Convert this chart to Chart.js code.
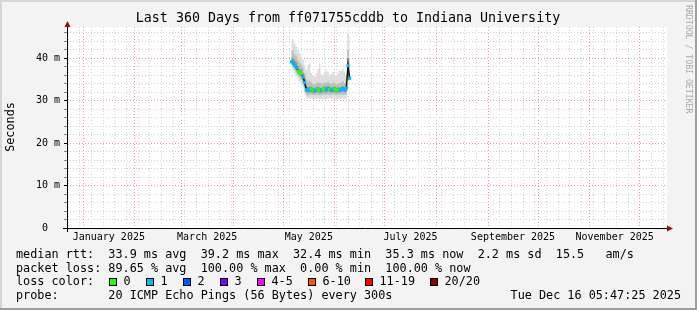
<!DOCTYPE html>
<html>

<head>
  <title>Last 360 Days from ff071755cddb to Indiana University</title>
  <script src="https://cdn.jsdelivr.net/npm/chart.js"></script>
  <style>
    body {
      margin: 0;
      background: #f3f3f3;
    }

    #chartContainer {
      width: 697px;
      height: 310px;
    }
  </style>
</head>

<body>
  <div id="chartContainer">
    <canvas id="myChart" width="697" height="310"></canvas>
  </div>

  <script>
    // x values are day numbers counted from 1 Jan 2025, y values are milliseconds
    const days = [125, 126, 127, 128, 129, 130, 131, 132, 133, 134, 135, 136, 137, 138, 139, 140, 141, 142,
      143, 144, 145, 146, 147, 148, 149, 150, 151, 152, 153, 154, 155, 156, 157, 158, 159, 160];
    const medianMs = [39.2, 38.9, 38.4, 37.8, 37.0, 36.6, 36.4, 35.6, 34.3, 32.6, 32.5, 32.6, 32.8, 32.4, 32.4, 32.6, 32.7, 32.5,
      32.5, 32.6, 32.8, 32.6, 32.9, 32.7, 32.5, 32.6, 32.7, 32.4, 32.6, 32.5, 32.7, 32.8, 32.6, 33.0, 38.3, 35.3];
    const lossCount = [1, 1, 1, 1, 0, 0, 0, 1, 1, 1, 1, 1, 0, 0, 1, 1, 0, 0,
      1, 0, 0, 1, 1, 0, 1, 1, 0, 0, 0, 1, 1, 1, 1, 1, 1, 1];

    // smoke: spread of the 20 pings, three shades
    const smokeOuterLo = [37.6, 37.2, 36.5, 35.8, 35.2, 34.5, 34.0, 33.3, 32.0, 30.8, 30.5, 30.5, 30.6, 30.4, 30.4, 30.5, 30.5, 30.4,
      30.4, 30.5, 30.5, 30.4, 30.6, 30.5, 30.4, 30.5, 30.5, 30.3, 30.4, 30.4, 30.5, 30.5, 30.4, 30.6, 34.5, 34.6];
    const smokeOuterHi = [44.3, 44.5, 43.5, 42.8, 42.0, 41.2, 40.3, 39.6, 38.5, 37.3, 38.5, 38.8, 36.5, 36.0, 35.8, 36.5, 37.5, 38.8,
      36.2, 36.0, 36.5, 37.4, 36.8, 36.0, 36.3, 36.8, 36.2, 35.8, 36.5, 37.3, 37.0, 37.6, 36.8, 36.0, 45.9, 45.5];
    const smokeMidLo = [38.3, 38.0, 37.5, 36.8, 36.0, 35.5, 35.0, 34.2, 33.0, 31.5, 31.3, 31.4, 31.5, 31.3, 31.3, 31.4, 31.4, 31.3,
      31.3, 31.4, 31.5, 31.4, 31.6, 31.5, 31.4, 31.5, 31.5, 31.3, 31.4, 31.4, 31.5, 31.5, 31.4, 31.6, 35.5, 35.0];
    const smokeMidHi = [42.0, 41.8, 41.0, 40.5, 39.5, 39.0, 38.5, 37.8, 36.5, 35.0, 34.5, 34.8, 34.4, 34.0, 33.8, 34.2, 34.3, 34.2,
      34.0, 34.0, 34.3, 34.2, 34.5, 34.2, 34.0, 34.3, 34.2, 33.9, 34.1, 34.2, 34.4, 34.6, 34.2, 34.5, 42.0, 40.0];
    const smokeInnerLo = [38.8, 38.5, 38.0, 37.3, 36.5, 36.0, 35.7, 35.0, 33.8, 32.1, 31.9, 32.0, 32.0, 31.9, 31.8, 32.0, 32.0, 31.9,
      31.9, 32.0, 32.2, 32.0, 32.3, 32.1, 32.0, 32.0, 32.1, 31.9, 32.0, 32.0, 32.1, 32.2, 32.0, 32.2, 35.0, 35.2];
    const smokeInnerHi = [40.2, 40.0, 39.5, 39.0, 38.2, 37.5, 37.2, 36.5, 35.3, 33.4, 33.2, 33.3, 33.3, 33.0, 32.9, 33.2, 33.3, 33.1,
      33.0, 33.2, 33.4, 33.2, 33.5, 33.3, 33.1, 33.2, 33.3, 33.0, 33.2, 33.1, 33.3, 33.4, 33.2, 33.6, 40.0, 37.0];

    // axis marks
    const monthStarts = [0, 31, 59, 90, 120, 151, 181, 212, 243, 273, 304, 334];
    const monthLabels = ['January 2025', 'March 2025', 'May 2025', 'July 2025', 'September 2025', 'November 2025'];
    const monthLabelDays = [15.5, 74.5, 135.5, 196.5, 258, 319];
    const yTickValues = [0, 2, 4, 6, 8, 10, 12, 14, 16, 18, 20, 22, 24, 26, 28, 30, 32, 34, 36, 38, 40, 42, 44, 46];

    // legend
    const lossLabels = ['0', '1', '2', '3', '4-5', '6-10', '11-19', '20/20'];
    const lossColours = ['#26ff00', '#00b8ff', '#0059ff', '#7e00ff', '#ff00ff', '#ff5500', '#ff0000', '#8b0000'];
    const statLines = [
      'median rtt:  33.9 ms avg  39.2 ms max  32.4 ms min  35.3 ms now  2.2 ms sd  15.5   am/s',
      'packet loss: 89.65 % avg  100.00 % max  0.00 % min  100.00 % now'
    ];
    const probeText = 'probe:       20 ICMP Echo Pings (56 Bytes) every 300s';
    const dateText = 'Tue Dec 16 05:47:25 2025';
    const titleText = 'Last 360 Days from ff071755cddb to Indiana University';

    const MONO = "'DejaVu Sans Mono', monospace";
    const majorGrid = '#f09a9a';
    const minorGrid = '#d2d2d2';

    // Mondays, for the weekly grid
    const weekStarts = [];
    for (let d = -9; d <= 350; d += 7) weekStarts.push(d);

    const xLabelAt = {};
    monthLabelDays.forEach((d, i) => { xLabelAt[d] = monthLabels[i]; });
    const xTickValues = Array.from(new Set([...weekStarts, ...monthStarts, ...monthLabelDays])).sort((a, b) => a - b);

    function lossColour(n) {
      if (n <= 3) return lossColours[n];
      if (n <= 5) return lossColours[4];
      if (n <= 10) return lossColours[5];
      if (n <= 19) return lossColours[6];
      return lossColours[7];
    }

    const rrdDecor = {
      id: 'rrdDecor',
      beforeDraw(chart) {
        const c = chart.ctx;
        const a = chart.chartArea;
        c.save();
        c.fillStyle = '#f3f3f3';
        c.fillRect(0, 0, chart.width, chart.height);
        c.fillStyle = '#ffffff';
        c.fillRect(a.left, a.top, a.right - a.left, a.bottom - a.top);
        // frame
        c.fillStyle = '#d6d6d6';
        c.fillRect(0, 0, chart.width, 2);
        c.fillRect(0, 0, 2, chart.height);
        c.fillStyle = '#9e9e9e';
        c.fillRect(chart.width - 2, 0, 2, chart.height);
        c.fillRect(0, chart.height - 2, chart.width, 2);
        c.restore();
      },
      afterDraw(chart) {
        const c = chart.ctx;
        const a = chart.chartArea;
        c.save();
        // axes
        c.strokeStyle = '#000';
        c.lineWidth = 1;
        c.beginPath();
        c.moveTo(a.left + 0.5, a.top - 5);
        c.lineTo(a.left + 0.5, a.bottom + 4);
        c.moveTo(a.left - 4, a.bottom + 0.5);
        c.lineTo(a.right + 1, a.bottom + 0.5);
        c.stroke();
        c.fillStyle = '#8b1010';
        c.beginPath();
        c.moveTo(a.left + 0.5, a.top - 6);
        c.lineTo(a.left - 2.5, a.top);
        c.lineTo(a.left + 3.5, a.top);
        c.closePath();
        c.fill();
        c.beginPath();
        c.moveTo(a.right + 6, a.bottom + 0.5);
        c.lineTo(a.right, a.bottom - 2.5);
        c.lineTo(a.right, a.bottom + 3.5);
        c.closePath();
        c.fill();

        // title
        c.fillStyle = '#000';
        c.textBaseline = 'middle';
        c.textAlign = 'center';
        c.font = '13.3px ' + MONO;
        c.fillText(titleText, 348, 19);

        // unit label
        c.save();
        c.translate(11, 127);
        c.rotate(-Math.PI / 2);
        c.font = '11.8px ' + MONO;
        c.fillText('Seconds', 0, 0);
        c.restore();

        // watermark
        c.save();
        c.translate(688, 5);
        c.rotate(Math.PI / 2);
        c.textAlign = 'left';
        c.fillStyle = '#a9a9a9';
        c.font = '8.2px ' + MONO;
        c.fillText('RRDTOOL / TOBI OETIKER', 0, 0);
        c.restore();

        // legend
        c.textAlign = 'left';
        c.font = '11.8px ' + MONO;
        c.fillText(statLines[0], 16, 255);
        c.fillText(statLines[1], 16, 269);
        c.fillText('loss color:', 16, 282);
        const boxX = [109, 146, 183, 220, 257, 308, 365, 430];
        lossLabels.forEach((lab, i) => {
          c.fillStyle = lossColours[i];
          c.fillRect(boxX[i], 278, 8, 8);
          c.strokeStyle = '#000';
          c.strokeRect(boxX[i] + 0.5, 278.5, 7, 7);
          c.fillStyle = '#000';
          c.fillText(lab, boxX[i] + 14.5, 282);
        });
        c.fillText(probeText, 16, 296);
        c.textAlign = 'right';
        c.fillText(dateText, 681, 296);
        c.restore();
      }
    };

    const pts = (arr) => days.map((d, i) => ({ x: d, y: arr[i] }));
    const band = (arr, fill, colour, order) => ({
      data: pts(arr),
      borderColor: 'rgba(0,0,0,0)',
      borderWidth: 1,
      pointRadius: 0,
      stepped: 'middle',
      fill: fill,
      backgroundColor: colour,
      order: order
    });

    const ctx = document.getElementById('myChart').getContext('2d');
    new Chart(ctx, {
      type: 'line',
      data: {
        datasets: [
          band(smokeOuterLo, false, 'rgba(0,0,0,0)', 3),
          band(smokeOuterHi, '-1', '#dedede', 3),
          band(smokeMidLo, false, 'rgba(0,0,0,0)', 2),
          band(smokeMidHi, '-1', '#bebebe', 2),
          band(smokeInnerLo, false, 'rgba(0,0,0,0)', 1),
          band(smokeInnerHi, '-1', '#8c8c8c', 1),
          {
            label: 'median rtt',
            data: pts(medianMs),
            borderColor: '#151515',
            borderWidth: 1.5,
            fill: false,
            pointStyle: 'rect',
            pointRadius: 2.2,
            pointBorderWidth: 0,
            pointBackgroundColor: lossCount.map(lossColour),
            order: 0
          }
        ]
      },
      options: {
        responsive: false,
        animation: false,
        layout: { padding: { left: 0, right: 30, top: 27, bottom: 62 } },
        plugins: {
          legend: { display: false },
          tooltip: { enabled: false },
          title: { display: false }
        },
        scales: {
          x: {
            type: 'linear',
            min: -9.6,
            max: 350.4,
            afterBuildTicks: (scale) => { scale.ticks = xTickValues.map(v => ({ value: v })); },
            afterFit: (scale) => { scale.height = 20; },
            ticks: {
              autoSkip: false,
              maxRotation: 0,
              minRotation: 0,
              padding: 3,
              color: '#000',
              font: { family: MONO, size: 10 },
              callback: (v) => xLabelAt[v] || ''
            },
            grid: {
              drawTicks: false,
              color: (c) => {
                const v = c.tick ? c.tick.value : null;
                if (monthStarts.includes(v)) return majorGrid;
                if (weekStarts.includes(v)) return minorGrid;
                return 'rgba(0,0,0,0)';
              }
            },
            border: { display: false, dash: [1, 2] }
          },
          y: {
            min: 0,
            max: 47.4,
            afterBuildTicks: (scale) => { scale.ticks = yTickValues.map(v => ({ value: v })); },
            afterFit: (scale) => { scale.width = 67; },
            ticks: {
              autoSkip: false,
              padding: 4,
              color: '#000',
              font: { family: MONO, size: 10 },
              callback: (v) => v % 10 === 0 ? (v === 0 ? ' 0  ' : v + ' m') : ''
            },
            grid: {
              color: (c) => (c.tick && c.tick.value % 10 === 0) ? majorGrid : minorGrid,
              tickLength: 3,
              tickColor: (c) => (c.tick && c.tick.value % 10 === 0) ? '#000' : '#888'
            },
            border: { display: false, dash: [1, 2] }
          }
        }
      },
      plugins: [rrdDecor]
    });
  </script>
</body>

</html>
